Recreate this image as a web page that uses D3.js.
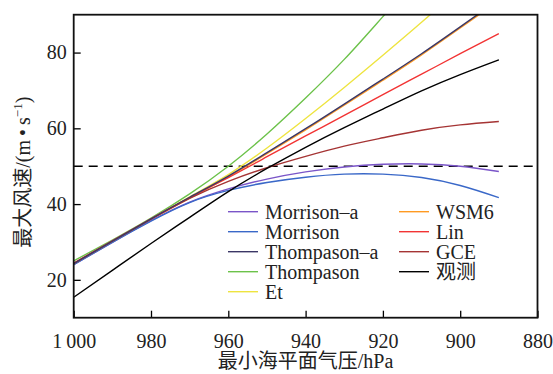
<!DOCTYPE html>
<html>
<head>
<meta charset="utf-8">
<script src="https://cdn.jsdelivr.net/npm/d3@7"></script>
<style>
body { margin: 0; background: #fff; }
text { font-family: "Liberation Serif", "Noto Sans CJK SC", serif; }
</style>
</head>
<body>
<div id="chart"></div>
<script>
// pressure (hPa) and max wind (m/s)
var pressure = [1000, 990, 980, 970, 960, 950, 940, 930, 920, 910, 900, 890];

var morrisonA   = [24.0, 29.9, 35.6, 40.5, 44.0, 46.6, 48.5, 49.8, 50.5, 50.6, 50.0, 48.6];
var morrison    = [24.0, 29.9, 35.5, 40.4, 43.6, 45.7, 47.1, 47.9, 47.9, 47.0, 44.9, 41.7];
var thompasonA  = [24.3, 30.2, 36.1, 41.8, 47.4, 53.6, 59.9, 66.4, 73.0, 79.7, 86.8, 94.0];
var thompason   = [25.0, 30.5, 36.3, 42.7, 50.0, 58.5, 68.0, 78.2, 89.5, 101, 113, 125];
var et          = [24.3, 30.2, 36.1, 41.9, 47.8, 54.8, 62.6, 70.8, 79.3, 88.0, 97.0, 106];
var wsm6        = [24.3, 30.1, 36.0, 41.6, 47.2, 53.3, 59.6, 66.1, 72.7, 79.4, 86.5, 93.7];
var lin         = [24.4, 30.3, 36.1, 41.7, 47.0, 52.5, 58.0, 63.4, 68.9, 74.3, 79.7, 85.0];
var gce         = [24.3, 30.2, 36.0, 41.5, 46.0, 49.6, 52.6, 55.3, 57.5, 59.5, 60.9, 61.8];
var obs         = [15.4, 22.5, 29.6, 36.5, 43.3, 49.4, 55.0, 60.2, 65.1, 69.9, 74.2, 78.1];

var seriesNames = ["Morrison\u2013a", "Morrison", "Thompason\u2013a", "Thompason", "Et", "WSM6", "Lin", "GCE", "观测"];
var seriesValues = [morrisonA, morrison, thompasonA, thompason, et, wsm6, lin, gce, obs];
var seriesColors = ["#7a55c8", "#3a68c8", "#3b3766", "#6cc24a", "#eee440", "#ff9a22", "#f23434", "#a53434", "#000000"];

var xTicks = [1000, 980, 960, 940, 920, 900, 880];
var yTicks = [20, 40, 60, 80];
var threshold = 50;

function drawChart() {
    var width = 553, height = 374;
    var pl = 73.7, pr = 537.5, pt = 14.7, pb = 317.7;

    var x = d3.scaleLinear().domain([1000, 880]).range([pl, pr]);
    var y = d3.scaleLinear().domain([10, 90]).range([pb, pt]);

    var svg = d3.select("#chart").append("svg")
        .attr("width", width)
        .attr("height", height);

    svg.append("clipPath").attr("id", "clip")
      .append("rect")
        .attr("x", pl).attr("y", pt)
        .attr("width", pr - pl).attr("height", pb - pt);

    // threshold line
    svg.append("line")
        .attr("x1", pl).attr("x2", pr)
        .attr("y1", y(threshold)).attr("y2", y(threshold))
        .attr("stroke", "#000")
        .attr("stroke-width", 1.5)
        .attr("stroke-dasharray", "9,6");

    var line = d3.line()
        .x(function(d) { return x(d[0]); })
        .y(function(d) { return y(d[1]); })
        .curve(d3.curveNatural);

    // draw order so the dark line sits on the orange one
    var order = [5, 0, 1, 3, 4, 6, 7, 2, 8];
    var plot = svg.append("g").attr("clip-path", "url(#clip)");
    order.forEach(function(i) {
        var pts = pressure.map(function(p, j) { return [p, seriesValues[i][j]]; });
        plot.append("path")
            .attr("d", line(pts))
            .attr("fill", "none")
            .attr("stroke", seriesColors[i])
            .attr("stroke-width", 1.4);
    });

    // axes
    var fmtX = function(d) { return d === 1000 ? "1\u2009000" : d; };

    var xAxis = svg.append("g")
        .attr("transform", "translate(0," + pb + ")")
        .call(d3.axisBottom(x).tickValues(xTicks).tickSizeInner(-7).tickSizeOuter(0).tickPadding(16).tickFormat(fmtX));
    var yAxis = svg.append("g")
        .attr("transform", "translate(" + pl + ",0)")
        .call(d3.axisLeft(y).tickValues(yTicks).tickSizeInner(-7).tickSizeOuter(0).tickPadding(7));

    [xAxis, yAxis].forEach(function(a) {
        a.select(".domain").remove();
        a.selectAll(".tick line").attr("stroke", "#000").attr("stroke-width", 1.3);
        a.selectAll(".tick text")
            .attr("font-size", 20)
            .attr("fill", "#222")
            .style("font-family", "'Liberation Serif', serif");
    });

    svg.append("rect")
        .attr("x", pl).attr("y", pt)
        .attr("width", pr - pl).attr("height", pb - pt)
        .attr("fill", "none")
        .attr("stroke", "#111")
        .attr("stroke-width", 1.8);

    // axis titles
    svg.append("text")
        .attr("x", (pl + pr) / 2)
        .attr("y", 368)
        .attr("text-anchor", "middle")
        .attr("font-size", 20)
        .attr("fill", "#222")
        .text("最小海平面气压/hPa");

    var yt = svg.append("text")
        .attr("transform", "translate(30," + ((pt + pb) / 2 + 6) + ") rotate(-90)")
        .attr("text-anchor", "middle")
        .attr("font-size", 20)
        .attr("fill", "#222");
    yt.append("tspan").text("最大风速/(m\u2009\u2022\u2009s");
    yt.append("tspan").attr("font-size", 13).attr("dy", -8).text("\u22121");
    yt.append("tspan").attr("dy", 8).text(")");

    // legend
    var legX = [228, 399], legY = 211.7, legStep = 20;
    seriesNames.forEach(function(name, i) {
        var col = i < 5 ? 0 : 1;
        var row = i < 5 ? i : i - 5;
        var g = svg.append("g")
            .attr("transform", "translate(" + legX[col] + "," + (legY + row * legStep) + ")");
        g.append("line")
            .attr("x1", 0).attr("x2", 30)
            .attr("stroke", seriesColors[i])
            .attr("stroke-width", 1.4);
        g.append("text")
            .attr("x", 37)
            .attr("dy", "0.35em")
            .attr("font-size", 20)
            .attr("fill", "#222")
            .text(name);
    });
}

drawChart();
</script>
</body>
</html>
